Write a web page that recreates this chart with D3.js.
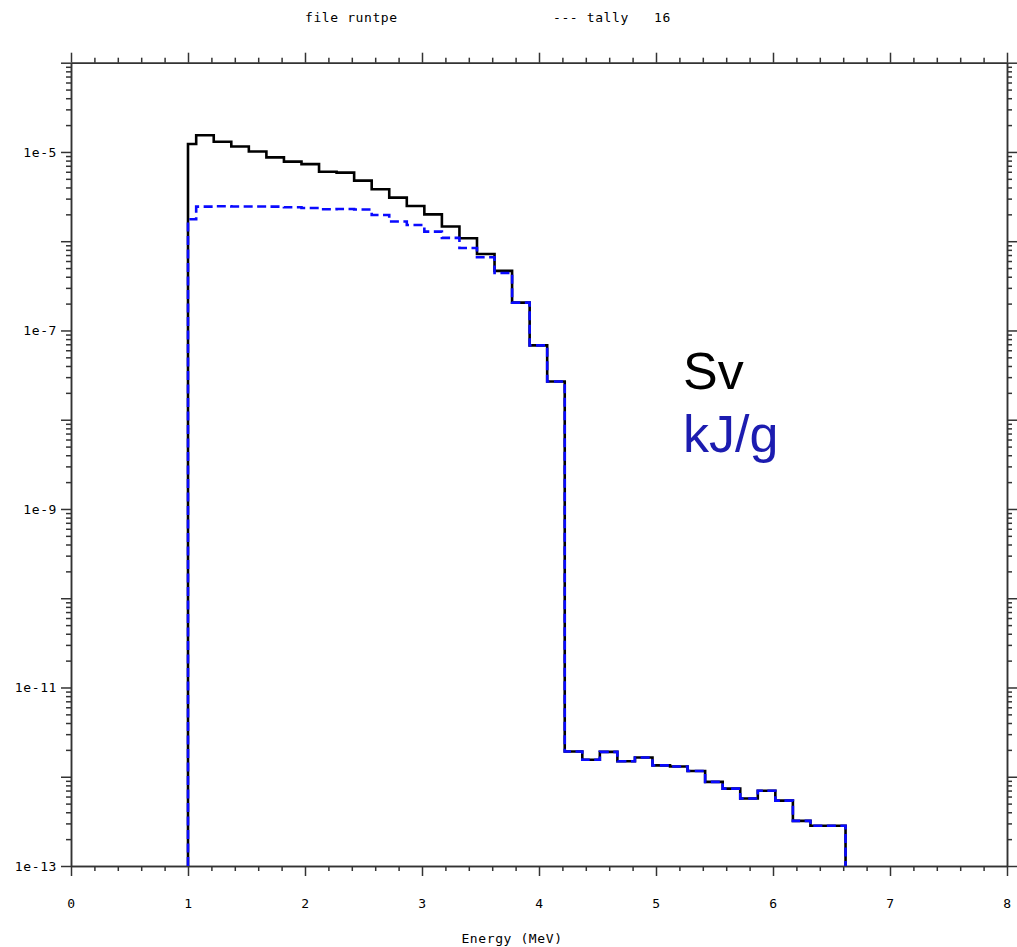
<!DOCTYPE html>
<html>
<head>
<meta charset="utf-8">
<script src="https://cdn.jsdelivr.net/npm/d3@7"></script>
<style>
  body { margin: 0; background: #fff; }
  .mono { font-family: "DejaVu Sans Mono", monospace; font-size: 13px; letter-spacing: 0.6px; fill: #000; }
  .tick text { font-family: "DejaVu Sans Mono", monospace; font-size: 13px; letter-spacing: 0.6px; fill: #000; }
  .domain { stroke: #333; stroke-width: 1.5; }
  .tick line { stroke: #333; stroke-width: 1.5; }
</style>
</head>
<body>
<div id="container"></div>
<script>
/* DATA */
// bin edges (MeV), one more than the bins
const edges = [1.0, 1.07, 1.22, 1.37, 1.52, 1.67, 1.82, 1.97, 2.12, 2.27, 2.42, 2.57, 2.72, 2.87, 3.02,
  3.17, 3.32, 3.47, 3.62, 3.77, 3.92, 4.07, 4.22, 4.37, 4.52, 4.67, 4.82, 4.97, 5.12, 5.27,
  5.42, 5.57, 5.72, 5.87, 6.02, 6.17, 6.32, 6.62];

// tally 16 in Sv (black)
const sv = [1.23e-5, 1.54e-5, 1.30e-5, 1.15e-5, 1.01e-5, 8.7e-6, 7.8e-6, 7.3e-6, 6.0e-6, 5.86e-6,
  4.77e-6, 3.82e-6, 3.08e-6, 2.48e-6, 2.0e-6, 1.46e-6, 1.08e-6, 7.2e-7, 4.65e-7, 2.05e-7,
  6.8e-8, 2.68e-8, 1.92e-12, 1.55e-12, 1.9e-12, 1.49e-12, 1.64e-12, 1.34e-12, 1.3e-12, 1.16e-12,
  8.75e-13, 7.36e-13, 5.7e-13, 6.98e-13, 5.4e-13, 3.2e-13, 2.83e-13];

// tally 16 in kJ/g (blue dashed)
const kjg = [1.76e-6, 2.44e-6, 2.46e-6, 2.45e-6, 2.45e-6, 2.44e-6, 2.40e-6, 2.36e-6, 2.28e-6, 2.30e-6,
  2.27e-6, 1.97e-6, 1.66e-6, 1.52e-6, 1.28e-6, 1.09e-6, 8.4e-7, 6.6e-7, 4.4e-7, 2.05e-7,
  6.8e-8, 2.68e-8, 1.92e-12, 1.55e-12, 1.9e-12, 1.49e-12, 1.64e-12, 1.34e-12, 1.3e-12, 1.16e-12,
  8.75e-13, 7.36e-13, 5.7e-13, 6.98e-13, 5.4e-13, 3.2e-13, 2.83e-13];

const xTicks = [0, 1, 2, 3, 4, 5, 6, 7, 8];
const yLabelled = [1e-5, 1e-7, 1e-9, 1e-11, 1e-13];

/* CONSTANTS */
const width = 1017;
const height = 947;
const margin = {top: 62.7, bottom: 81, left: 71, right: 10};

const svg = d3.select("#container")
  .append("svg")
  .attr("width", width)
  .attr("height", height);

/* SCALES */
const xScale = d3.scaleLinear()
  .domain([0, 8])
  .range([margin.left, width - margin.right]);

const yScale = d3.scaleLog()
  .domain([1e-13, 1e-4])
  .range([height - margin.bottom, margin.top]);

// all decade and minor ticks
const decades = d3.range(-13, -3).map(e => Math.pow(10, e));
const minors = [];
d3.range(-13, -4).forEach(e => {
  d3.range(2, 10).forEach(m => minors.push(m * Math.pow(10, e)));
});
const xMinor = d3.range(0, 40).map(i => i / 5).filter(v => v % 1 !== 0);

const fmtY = d => yLabelled.some(v => Math.abs(Math.log10(v) - Math.log10(d)) < 1e-6)
  ? "1e" + Math.round(Math.log10(d)) : "";

/* AXES */
const yBottom = height - margin.bottom;
const xRight = width - margin.right;

// bottom
svg.append("g")
  .attr("transform", `translate(0,${yBottom})`)
  .call(d3.axisBottom(xScale).tickValues(xMinor).tickSize(5).tickFormat("").tickSizeOuter(0));
svg.append("g")
  .attr("transform", `translate(0,${yBottom})`)
  .call(d3.axisBottom(xScale).tickValues(xTicks).tickSize(10).tickPadding(23).tickSizeOuter(0));

// top
svg.append("g")
  .attr("transform", `translate(0,${margin.top})`)
  .call(d3.axisTop(xScale).tickValues(xMinor).tickSize(5).tickFormat("").tickSizeOuter(0));
svg.append("g")
  .attr("transform", `translate(0,${margin.top})`)
  .call(d3.axisTop(xScale).tickValues(xTicks).tickSize(10).tickFormat("").tickSizeOuter(0));

// left
svg.append("g")
  .attr("transform", `translate(${margin.left},0)`)
  .call(d3.axisLeft(yScale).tickValues(minors).tickSize(5).tickFormat("").tickSizeOuter(0));
svg.append("g")
  .attr("transform", `translate(${margin.left},0)`)
  .call(d3.axisLeft(yScale).tickValues(decades).tickSize(10).tickPadding(4).tickFormat(fmtY).tickSizeOuter(0));

// right
svg.append("g")
  .attr("transform", `translate(${xRight},0)`)
  .call(d3.axisRight(yScale).tickValues(minors).tickSize(5).tickFormat("").tickSizeOuter(0));
svg.append("g")
  .attr("transform", `translate(${xRight},0)`)
  .call(d3.axisRight(yScale).tickValues(decades).tickSize(10).tickFormat("").tickSizeOuter(0));

/* LINES */
const stepPoints = vals => {
  const pts = [[edges[0], 1e-13]];
  vals.forEach((v, i) => pts.push([edges[i], v]));
  pts.push([edges[edges.length - 1], vals[vals.length - 1]]);
  pts.push([edges[edges.length - 1], 1e-13]);
  return pts;
};

const line = d3.line()
  .x(d => xScale(d[0]))
  .y(d => yScale(d[1]))
  .curve(d3.curveStepAfter);

svg.append("path")
  .datum(stepPoints(sv))
  .attr("d", line)
  .attr("fill", "none")
  .attr("stroke", "#000")
  .attr("stroke-width", 2.6);

svg.append("path")
  .datum(stepPoints(kjg))
  .attr("d", line)
  .attr("fill", "none")
  .attr("stroke", "#0a0aff")
  .attr("stroke-width", 2.6)
  .attr("stroke-dasharray", "9,4.5");

/* TEXT */
svg.append("text").attr("class", "mono")
  .attr("x", 305).attr("y", 22)
  .text("file runtpe");
svg.append("text").attr("class", "mono")
  .attr("x", 553).attr("y", 22)
  .style("white-space", "pre")
  .text("--- tally   16");
svg.append("text").attr("class", "mono")
  .attr("x", 512).attr("y", 943)
  .attr("text-anchor", "middle")
  .text("Energy (MeV)");

svg.append("text")
  .attr("x", 683).attr("y", 389)
  .style("font-family", "'Liberation Sans', Arial, sans-serif")
  .style("font-size", "52px")
  .attr("fill", "#000")
  .text("Sv");
svg.append("text")
  .attr("x", 683).attr("y", 452)
  .style("font-family", "'Liberation Sans', Arial, sans-serif")
  .style("font-size", "52px")
  .attr("fill", "#1c1cb0")
  .text("kJ/g");
</script>
</body>
</html>
